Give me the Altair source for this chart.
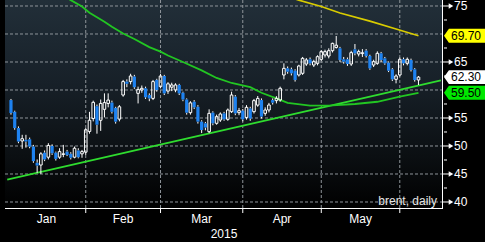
import altair as alt
import pandas as pd

# ---------------- data ----------------
bar_index = list(range(110))
opens = [58.2, 56.1, 53.2, 50.9, 51.1, 51.2, 49.9, 47.0, 46.6, 48.8,
         48.0, 50.0, 48.8, 48.0, 48.5, 49.0, 48.6, 48.0, 49.2, 48.6,
         48.9, 52.6, 54.9, 57.1, 54.6, 56.55, 57.6, 57.75, 56.8, 54.8,
         59.1, 61.5, 61.5, 62.4, 59.4, 60.0, 60.3, 59.1, 58.5, 61.8,
         60.6, 62.5, 59.8, 60.5, 60.0, 60.9, 59.5, 58.3, 55.95, 57.9,
         57.0, 54.35, 54.05, 52.56, 55.95, 54.05, 54.64, 55.83, 54.76, 56.13,
         58.81, 55.95, 56.31, 55.1, 56.7, 56.13, 57.3, 58.2, 55.83, 56.43,
         58.2, 58.1, 58.21, 62.68, 63.87, 63.69, 63.45, 62.68, 62.98, 64.64,
         65.48, 64.46, 64.76, 65.48, 66.25, 66.07, 67.02, 67.6, 67.44, 65.48,
         65.48, 64.64, 67.26, 66.43, 66.5, 67.02, 66.07, 64.46, 64.76, 66.55,
         65.65, 64.88, 63.69, 61.9, 62.68, 65.48, 64.76, 65.36, 63.69, 61.79]
highs = [58.4, 56.3, 53.5, 52.0, 52.0, 51.5, 50.2, 47.6, 48.9, 49.2,
         50.5, 50.3, 49.0, 49.6, 50.2, 49.3, 48.9, 49.9, 49.6, 49.3,
         53.2, 56.1, 58.1, 57.4, 58.3, 59.4, 59.4, 58.1, 57.0, 57.3,
         61.8, 61.9, 62.9, 62.7, 60.6, 60.8, 60.6, 59.4, 61.8, 62.0,
         62.9, 62.7, 61.4, 61.3, 61.2, 61.1, 59.7, 58.5, 58.0, 58.2,
         57.3, 54.6, 54.3, 56.55, 56.2, 55.6, 56.0, 56.1, 56.7, 59.7,
         59.1, 56.8, 56.6, 57.3, 57.0, 58.4, 58.93, 58.5, 56.9, 57.7,
         58.5, 58.9, 60.6, 64.76, 64.2, 64.0, 63.7, 64.5, 65.9, 65.7,
         65.8, 65.4, 66.2, 67.1, 67.2, 67.44, 68.45, 69.64, 67.7, 65.9,
         65.8, 67.0, 68.21, 67.2, 67.3, 67.3, 66.3, 65.4, 66.9, 66.8,
         65.9, 65.1, 63.9, 62.8, 65.8, 65.8, 65.8, 65.6, 63.9, 62.5]
lows = [55.6, 52.9, 50.5, 49.5, 49.7, 49.6, 47.0, 45.2, 45.0, 47.3,
        47.6, 48.4, 47.4, 47.7, 48.0, 48.2, 47.6, 47.8, 47.8, 47.9,
        48.4, 52.2, 54.4, 52.2, 52.7, 55.1, 56.9, 55.8, 54.0, 54.4,
        58.8, 60.5, 61.0, 60.2, 57.6, 59.5, 58.4, 58.0, 58.2, 59.7,
        60.3, 59.1, 59.3, 59.8, 59.6, 59.1, 58.0, 55.6, 55.6, 56.6,
        54.0, 52.3, 52.8, 52.3, 53.7, 53.8, 54.3, 54.5, 54.5, 55.9,
        55.5, 55.5, 54.4, 54.7, 54.5, 55.8, 57.0, 54.9, 55.4, 56.0,
        57.4, 57.6, 57.9, 61.9, 62.9, 62.6, 61.5, 62.4, 62.7, 64.3,
        64.4, 64.1, 64.4, 65.2, 65.8, 65.65, 66.7, 67.4, 65.0, 64.7,
        64.3, 64.3, 66.2, 66.0, 65.9, 65.8, 63.6, 64.1, 64.5, 65.0,
        64.5, 63.2, 61.6, 61.19, 62.4, 64.4, 64.4, 63.3, 61.5, 60.89]
closes = [55.9, 53.2, 50.8, 51.3, 50.8, 49.9, 47.3, 46.5, 48.6, 47.6,
          50.1, 48.7, 47.7, 49.0, 48.6, 48.4, 47.9, 49.6, 48.0, 49.0,
          52.9, 54.6, 57.8, 53.8, 57.6, 57.75, 58.2, 56.1, 54.35, 57.0,
          61.5, 61.1, 62.5, 60.5, 60.1, 60.3, 58.7, 58.5, 61.5, 60.0,
          62.5, 59.4, 61.1, 60.9, 60.9, 59.4, 58.3, 55.95, 57.7, 56.9,
          54.35, 52.86, 53.3, 55.83, 54.05, 55.24, 55.71, 54.76, 56.43, 59.11,
          55.83, 56.31, 54.76, 56.9, 54.9, 58.1, 58.5, 55.24, 56.43, 57.32,
          57.74, 58.51, 60.3, 63.87, 63.27, 62.98, 61.79, 64.29, 65.65, 65.36,
          64.76, 65.06, 65.95, 66.85, 66.85, 67.02, 68.33, 68.0, 65.36, 65.06,
          64.64, 66.67, 66.55, 66.85, 66.65, 66.07, 63.87, 65.06, 66.55, 65.36,
          64.76, 63.45, 61.9, 62.5, 65.48, 64.76, 65.48, 63.57, 61.79, 62.3]

ma_idx = [14, 16, 19, 21, 25, 27, 30, 33, 37, 40, 42, 46, 51, 55, 59, 64, 67, 71, 74, 80, 86, 92, 98, 104, 109]
ma_val = [76.8, 76.05, 74.9, 73.8, 72.2, 71.3, 70.1, 69.1, 67.65, 66.85, 66.15, 65.0, 63.5, 62.15,
          61.25, 60.5, 59.5, 58.5, 57.7, 57.2, 57.25, 57.5, 57.9, 58.8, 59.5]

yel_idx = [75, 77, 83, 88, 96, 103, 109]
yel_val = [76.45, 76.05, 74.9, 73.75, 72.3, 70.9, 69.7]

trend_idx = [-1, 115]
trend_val = [43.99, 61.72]

grid_values = [40, 45, 50, 55, 60, 65, 70, 75]
axis_label_values = [40, 45, 50, 55, 65, 75]
minor_values = [42.5, 47.5, 52.5, 57.5, 62.5, 67.5, 72.5]

month_names = ["Jan", "Feb", "Mar", "Apr", "May"]
month_starts = [-1, 20, 40, 62, 83]
month_ends = [20, 40, 62, 83, 104]

tag_values = [69.70, 62.30, 59.50]
tag_texts = ["69.70", "62.30", "59.50"]
tag_colors = ["#ffff00", "#ffffff", "#00e800"]

# ---------------- frames ----------------
W, H = 438, 209
FONT = "Liberation Sans"
xs = alt.Scale(domain=[-0.26, 114.22], nice=False, zero=False)
ys = alt.Scale(domain=[38.75, 76.07], nice=False, zero=False)

df = pd.DataFrame({"i": bar_index, "o": opens, "h": highs, "l": lows, "c": closes})
df["top"] = df[["o", "c"]].max(axis=1)
df["bot"] = df[["o", "c"]].min(axis=1)
up = df[df["c"] >= df["o"]]
down = df[df["c"] < df["o"]]

ma_df = pd.DataFrame({"i": ma_idx, "v": ma_val})
yel_df = pd.DataFrame({"i": yel_idx, "v": yel_val})
tr_df = pd.DataFrame({"i": trend_idx, "v": trend_val})
grid_df = pd.DataFrame({"v": grid_values})
lab_df = pd.DataFrame({"v": axis_label_values,
                       "t": [str(v) for v in axis_label_values]})
minor_df = pd.DataFrame({"v": minor_values})
bound_df = pd.DataFrame({"i": month_ends})
month_df = pd.DataFrame({"name": month_names,
                         "mid": [(a + b) / 2 for a, b in zip(month_starts, month_ends)]})
tag_df = pd.DataFrame({"v": tag_values, "t": tag_texts, "col": tag_colors})
one = pd.DataFrame({"a": [0]})

X = lambda f: alt.X(f, scale=xs, axis=None)
Y = lambda f: alt.Y(f, scale=ys, axis=None)

# ---------------- layers ----------------
bg = alt.Chart(one).mark_rect(
    fill=alt.Gradient(
        gradient="linear",
        stops=[alt.GradientStop(color="#222f39", offset=0),
               alt.GradientStop(color="#172028", offset=0.4),
               alt.GradientStop(color="#0b0f12", offset=0.75),
               alt.GradientStop(color="#000000", offset=1)],
        x1=0, x2=0, y1=0, y2=1)
).encode(x=alt.value(0), x2=alt.value(W), y=alt.value(0), y2=alt.value(H))

hgrid = alt.Chart(grid_df).mark_rule(color="#8f959a", strokeWidth=1, strokeDash=[3, 2]).encode(
    y=Y("v:Q"), x=alt.value(0), x2=alt.value(W))
vgrid = alt.Chart(bound_df).mark_rule(color="#8f959a", strokeWidth=1, strokeDash=[3, 2]).encode(
    x=X("i:Q"), y=alt.value(0), y2=alt.value(H))

trend = alt.Chart(tr_df).mark_line(color="#2fdc2f", strokeWidth=1.8, clip=True).encode(
    x=X("i:Q"), y=Y("v:Q"))
ma = alt.Chart(ma_df).mark_line(color="#22c622", strokeWidth=1.8, clip=True).encode(
    x=X("i:Q"), y=Y("v:Q"))
yel = alt.Chart(yel_df).mark_line(color="#d9cc00", strokeWidth=1.6, clip=True).encode(
    x=X("i:Q"), y=Y("v:Q"))

wick_up = alt.Chart(df).mark_rule(color="#ffffff", strokeWidth=1).encode(
    x=X("i:Q"), y=Y("top:Q"), y2="h:Q")
wick_dn = alt.Chart(df).mark_rule(color="#ffffff", strokeWidth=1).encode(
    x=X("i:Q"), y=Y("l:Q"), y2="bot:Q")

body_dn = alt.Chart(down).mark_bar(size=3.2, color="#1e82f0").encode(
    x=X("i:Q"), y=Y("o:Q"), y2="c:Q")
body_up = alt.Chart(up).mark_bar(size=2.6, fill="#000000", fillOpacity=0,
                                 stroke="#ffffff", strokeWidth=1).encode(
    x=X("i:Q"), y=Y("o:Q"), y2="c:Q")

# hand-drawn axes
x_domain = alt.Chart(one).mark_rule(color="#ffffff", strokeWidth=1).encode(
    x=alt.value(0), x2=alt.value(W), y=alt.value(H - 0.5))
y_domain = alt.Chart(one).mark_rule(color="#ffffff", strokeWidth=1).encode(
    x=alt.value(W - 0.5), y=alt.value(0), y2=alt.value(H))
x_ticks = alt.Chart(bound_df).mark_rule(color="#ffffff", strokeWidth=1).encode(
    x=X("i:Q"), y=alt.value(H), y2=alt.value(H + 4))
y_ticks = alt.Chart(lab_df).mark_rule(color="#ffffff", strokeWidth=1).encode(
    x=alt.value(W), x2=alt.value(W + 6), y=Y("v:Q"))
arrows = alt.Chart(lab_df).mark_point(shape="triangle-right", filled=True, color="#ffffff",
                                      size=28, opacity=1).encode(
    x=alt.value(W + 8), y=Y("v:Q"))
y_labels = alt.Chart(lab_df).mark_text(align="left", baseline="middle", font=FONT,
                                       fontSize=12, color="#ffffff").encode(
    x=alt.value(W + 11), y=Y("v:Q"), text="t:N")
minor = alt.Chart(minor_df).mark_rule(color="#ffffff", strokeWidth=1).encode(
    x=alt.value(W + 1), x2=alt.value(W + 4), y=Y("v:Q"))

tag_shape = "M-1,0 L-0.76,-0.34 L1,-0.34 L1,0.34 L-0.76,0.34 Z"
tags = alt.Chart(tag_df).mark_point(shape=tag_shape, filled=True, size=1681, opacity=1,
                                    strokeWidth=0).encode(
    x=alt.value(W + 21.5), y=Y("v:Q"), color=alt.Color("col:N", scale=None))
tag_text = alt.Chart(tag_df).mark_text(align="left", baseline="middle", font=FONT,
                                       fontSize=12, color="#000000").encode(
    x=alt.value(W + 8), y=Y("v:Q"), text="t:N")

months = alt.Chart(month_df).mark_text(align="center", baseline="middle", font=FONT,
                                       fontSize=12, color="#ffffff").encode(
    x=X("mid:Q"), y=alt.value(H + 10), text="name:N")
year = alt.Chart(one).mark_text(align="center", baseline="middle", font=FONT,
                                fontSize=12, color="#ffffff", text="2015").encode(
    x=alt.value(W / 2), y=alt.value(H + 25))
label = alt.Chart(one).mark_text(align="right", baseline="alphabetic", font=FONT,
                                 fontSize=12, color="#e6e6e6", text="brent, daily").encode(
    x=alt.value(W - 6), y=alt.value(H - 4))

chart = alt.layer(
    bg, hgrid, vgrid, trend, ma, yel, wick_up, wick_dn, body_dn, body_up,
    label, x_domain, y_domain, x_ticks, y_ticks, arrows, y_labels, minor,
    tags, tag_text, months, year
).properties(
    width=W, height=H,
    padding={"left": 5, "top": 0, "right": 42, "bottom": 33},
    autosize=alt.AutoSizeParams(type="none"),
    background="#000000",
).configure_view(stroke=None)

chart.save("out.html", embed_options={"renderer": "svg", "actions": False})
